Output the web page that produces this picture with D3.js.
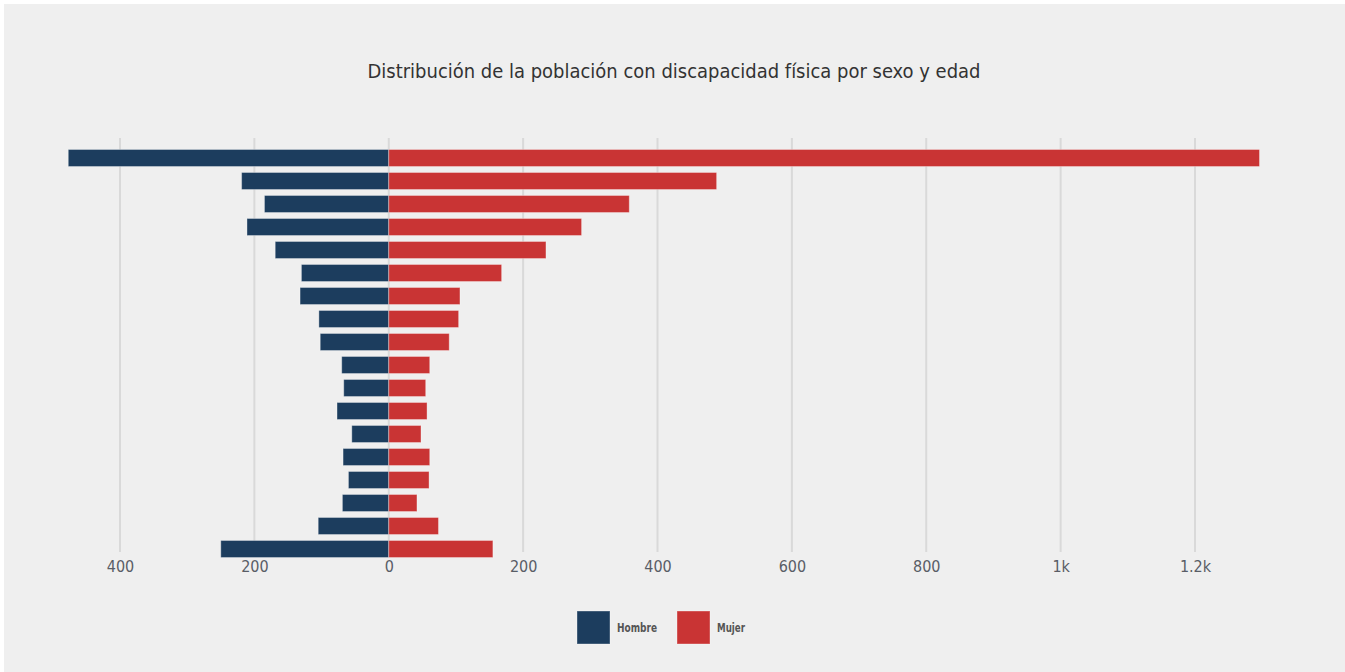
<!DOCTYPE html>
<html>
<head>
<meta charset="utf-8">
<script src="https://cdn.jsdelivr.net/npm/d3@7"></script>
<style>
    body { margin: 0; background: #ffffff; }
    #chart { position: absolute; left: 4px; top: 4px; }
    text { font-family: "DejaVu Sans Condensed", "Roboto", sans-serif; }
</style>
</head>
<body>
<svg id="chart"></svg>
<script>
let title = "Distribución de la población con discapacidad física por sexo y edad";

// grupos de edad, de arriba hacia abajo
let ageGroups = ["85+", "80-84", "75-79", "70-74", "65-69", "60-64", "55-59", "50-54", "45-49",
    "40-44", "35-39", "30-34", "25-29", "20-24", "15-19", "10-14", "5-9", "0-4"];

let hombre = [477, 219, 185, 211, 169, 130, 132, 104, 102, 70, 67, 77, 55, 68, 60, 69, 105, 250];
let mujer = [1296, 488, 358, 287, 234, 168, 106, 104, 90, 61, 55, 57, 48, 61, 60, 42, 74, 155];

let xTicks = [-400, -200, 0, 200, 400, 600, 800, 1000, 1200];

let series = [
    { name: "Hombre", values: hombre, sign: -1, color: "#1c3d5e", labelWidth: 40 },
    { name: "Mujer", values: mujer, sign: 1, color: "#c93434", labelWidth: 28 }
];

function getConfig() {
    let width = 1341;
    let height = 668;
    let container = d3.select("#chart")
        .attr("width", width)
        .attr("height", height);

    container.append("rect")
        .attr("width", width)
        .attr("height", height)
        .attr("fill", "#efefef");

    return { width, height, container }
}

function getScales() {
    // svg sits 4px in from the page corner
    let xScale = d3.scaleLinear()
        .domain([-400, 1200])
        .range([116, 1191]);

    let yScale = d3.scaleBand()
        .domain(ageGroups)
        .range([142.5, 556.5])
        .paddingInner(0.26)
        .paddingOuter(0.13);

    return { xScale, yScale }
}

function drawGrid(config, scales) {
    let { container } = config;
    let { xScale } = scales;

    container.append("g")
        .selectAll("line")
        .data(xTicks)
        .enter()
        .append("line")
        .attr("x1", d => xScale(d))
        .attr("x2", d => xScale(d))
        .attr("y1", 134)
        .attr("y2", 548)
        .attr("stroke", "#d9d9d9")
        .attr("stroke-width", 2);

    let axisX = d3.axisBottom(xScale)
        .tickValues(xTicks)
        .tickSize(0)
        .tickPadding(0)
        .tickFormat(d => d3.format("~s")(Math.abs(d)));

    let axis = container.append("g")
        .attr("transform", "translate(0,557)")
        .call(axisX);
    axis.select(".domain").remove();
    axis.selectAll("text")
        .attr("fill", "#595d66")
        .attr("font-size", 16)
        .style("font-family", "\"DejaVu Sans Condensed\", sans-serif");
}

function drawBars(config, scales) {
    let { container } = config;
    let { xScale, yScale } = scales;

    series.forEach(s => {
        container.append("g")
            .selectAll("rect")
            .data(s.values)
            .enter()
            .append("rect")
            .attr("x", d => s.sign < 0 ? xScale(-d) : xScale(0))
            .attr("width", d => xScale(d) - xScale(0))
            .attr("y", (d, i) => yScale(ageGroups[i]))
            .attr("height", yScale.bandwidth())
            .attr("fill", s.color)
            .attr("stroke", "rgba(255,255,255,0.35)")
            .attr("stroke-width", 1);
    });
}

function drawTitle(config) {
    config.container.append("text")
        .attr("x", 670)
        .attr("y", 74)
        .attr("text-anchor", "middle")
        .attr("font-size", 20)
        .attr("textLength", 613)
        .attr("lengthAdjust", "spacingAndGlyphs")
        .attr("fill", "#333333")
        .text(title);
}

function drawLegend(config) {
    let legend = config.container.append("g");
    let items = legend.selectAll("g")
        .data(series)
        .enter()
        .append("g")
        .attr("transform", (d, i) => `translate(${573 + i * 100},607)`);

    items.append("rect")
        .attr("width", 33)
        .attr("height", 33)
        .attr("fill", d => d.color)
        .attr("stroke", "rgba(255,255,255,0.35)");

    items.append("text")
        .attr("x", 40)
        .attr("y", 21)
        .attr("font-size", 13)
        .attr("font-weight", "bold")
        .attr("textLength", d => d.labelWidth)
        .attr("lengthAdjust", "spacingAndGlyphs")
        .attr("fill", "#555555")
        .text(d => d.name);
}

function showChart() {
    let config = getConfig();
    let scales = getScales();
    drawGrid(config, scales);
    drawBars(config, scales);
    drawTitle(config);
    drawLegend(config);
}

showChart();
</script>
</body>
</html>
